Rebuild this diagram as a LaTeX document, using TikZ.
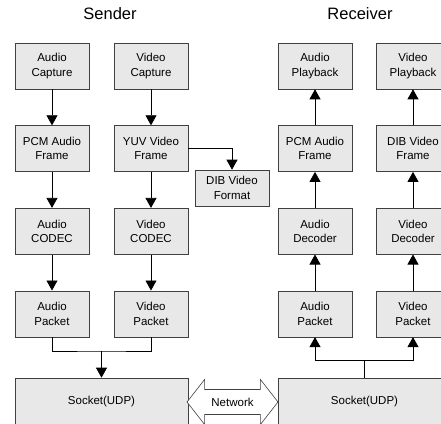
\documentclass[tikz,border=0pt]{standalone}
\usepackage{fontspec}
\setmainfont{Liberation Sans}
\usepackage{tikz}
\usetikzlibrary{arrows.meta,positioning,shapes.arrows}

\begin{document}
\begin{tikzpicture}[x=1pt,y=-1pt,node distance=36pt,
    block/.style={draw=black!75,fill=black!9,line width=0.6pt,minimum width=74pt,
      minimum height=46pt,inner sep=0pt,align=center,font=\fontsize{11.5}{14.5}\selectfont},
    socket/.style={block,minimum width=173pt,minimum height=48pt},
    title/.style={font=\fontsize{16.5}{19}\selectfont},
    flow/.style={-{Triangle[width=11pt,length=10pt]},line width=0.7pt},
    link/.style={line width=0.7pt}]
  \useasboundingbox (0,0) rectangle (441,423);

  % sender side
  \node[title] (sender) at (110,14) {Sender};
  \node[block] (sac) at (52,66) {Audio\\Capture};
  \node[block] (svc) at (151,66) {Video\\Capture};
  \node[block] (spcm) [below=of sac] {PCM Audio\\Frame};
  \node[block] (syuv) [below=of svc] {YUV Video\\Frame};
  \node[block] (sacd) [below=of spcm] {Audio\\CODEC};
  \node[block] (svcd) [below=of syuv] {Video\\CODEC};
  \node[block] (sapk) [below=of sacd] {Audio\\Packet};
  \node[block] (svpk) [below=of svcd] {Video\\Packet};
  \node[block,minimum height=36pt] (sdib) at (232,188) {DIB Video\\Format};
  \node[socket] (ssock) at (101.5,402) {Socket(UDP)};
  \coordinate (smerge) at (101.5,351);

  % receiver side
  \node[title] (receiver) at (360,14) {Receiver};
  \node[block] (rap) at (315,66) {Audio\\Playback};
  \node[block] (rvp) at (413,66) {Video\\Playback};
  \node[block] (rpcm) [below=of rap] {PCM Audio\\Frame};
  \node[block] (rdib) [below=of rvp] {DIB Video\\Frame};
  \node[block] (radec) [below=of rpcm] {Audio\\Decoder};
  \node[block] (rvdec) [below=of rdib] {Video\\Decoder};
  \node[block] (rapk) [below=of radec] {Audio\\Packet};
  \node[block] (rvpk) [below=of rvdec] {Video\\Packet};
  \node[socket] (rsock) at (364.5,402) {Socket(UDP)};
  \coordinate (rsplit) at (364.5,360);

  % network
  \node[double arrow,draw=black!75,fill=white,line width=0.6pt,minimum height=91pt,
    inner ysep=8pt,double arrow head extend=10pt,double arrow tip angle=104,
    font=\fontsize{11.5}{14}\selectfont] (net) at (232.5,402) {Network};

  \draw[flow] (sac) -- (spcm);
  \draw[flow] (svc) -- (syuv);
  \draw[flow] (spcm) -- (sacd);
  \draw[flow] (syuv) -- (svcd);
  \draw[flow] (sacd) -- (sapk);
  \draw[flow] (svcd) -- (svpk);
  \draw[flow] (syuv.east) -| (sdib.north);
  \draw[link] (sapk.south) |- (smerge) -| (svpk.south);
  \draw[flow] (smerge) -- (ssock);

  \draw[link] (rsock) -- (rsplit);
  \draw[flow] (rsplit) -| (rapk.south);
  \draw[flow] (rsplit) -| (rvpk.south);
  \draw[flow] (rapk) -- (radec);
  \draw[flow] (rvpk) -- (rvdec);
  \draw[flow] (radec) -- (rpcm);
  \draw[flow] (rvdec) -- (rdib);
  \draw[flow] (rpcm) -- (rap);
  \draw[flow] (rdib) -- (rvp);
\end{tikzpicture}
\end{document}
